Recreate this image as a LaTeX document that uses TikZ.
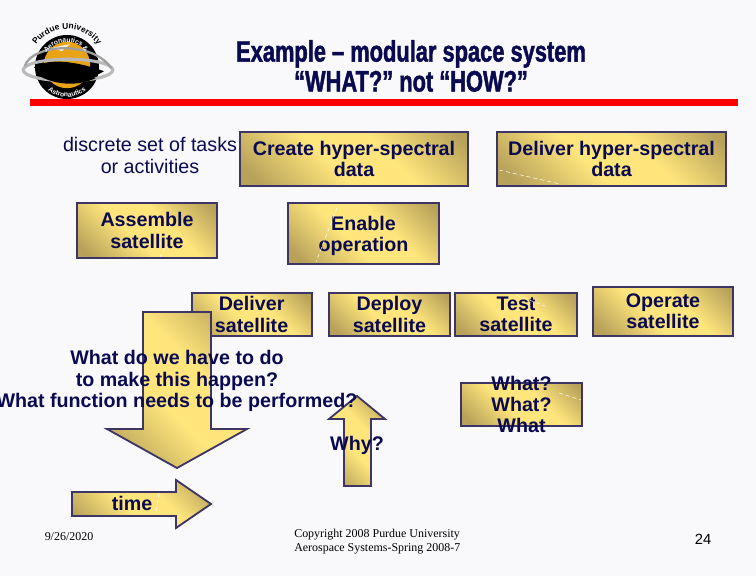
\documentclass[tikz,border=0pt]{standalone}
\usepackage{fontspec}
\setmainfont{Liberation Sans}
\newfontfamily\footfont{Liberation Serif}
\newfontfamily\titlefont[FakeStretch=0.74,FakeBold=1.5]{Liberation Sans Bold}
\usetikzlibrary{decorations.text}
\definecolor{pagebg}{HTML}{F9F9FB}
\definecolor{inknavy}{HTML}{0A0A50}
\definecolor{boxline}{HTML}{3C3565}
\definecolor{golddark}{HTML}{B8A25A}
\definecolor{goldlight}{HTML}{FFE57C}
\definecolor{sunorange}{HTML}{E8A317}
\pgfdeclareverticalshading{goldband}{100bp}{color(0bp)=(golddark); color(20bp)=(golddark);
    color(43bp)=(goldlight); color(60bp)=(goldlight); color(82bp)=(golddark); color(100bp)=(golddark)}
\newcommand{\logotype}{\bfseries\fontsize{6}{6}\selectfont}
\newcommand{\logotypesmall}{\bfseries\fontsize{4.8}{5}\selectfont}
\tikzset{
    goldfill/.style={shading=goldband,shading angle=-45,draw=boxline,line width=1.3pt},
    taskbox/.style={goldfill,inner sep=0pt,align=center,text=inknavy,
        font=\bfseries\fontsize{14}{15}\selectfont},
    plainlabel/.style={align=center,inner sep=0pt,text=inknavy,
        font=\fontsize{14}{15}\selectfont},
    boldlabel/.style={plainlabel,font=\bfseries\fontsize{14}{15}\selectfont},
    footlabel/.style={inner sep=0pt,align=left,
        font=\footfont\fontsize{8.5}{10}\selectfont},
    fleck/.style={white,densely dashed,line width=0.35pt}
}
\begin{document}
\begin{tikzpicture}
    \useasboundingbox (0,0) rectangle (18.9,14.4);
    \fill[pagebg] (0,0) rectangle (18.9,14.4);
    % logo
    \fill[black] (1.675,12.725) circle (0.8);
    \fill[sunorange] (1.675,12.775) circle (0.58);
    \fill[white!85!sunorange] (1.3,13.2) -- (1.75,13.3) -- (1.55,13.12) -- cycle;
    \fill[black] (0.85,12.72) .. controls (1.3,13.0) and (2.1,12.8) .. (2.6,12.62)
        .. controls (2.1,12.3) and (1.3,12.3) .. cycle;
    \draw[gray!55,line width=2.2pt] (1.7,12.65) ellipse (1.12 and 0.27);
    \draw[gray!75,line width=1.6pt] (0.62,12.75) .. controls (0.8,13.3) and (2.3,13.4) .. (2.78,12.7);
    \fill[black] (0.95,12.52) .. controls (1.4,12.68) and (2.0,12.6) .. (2.4,12.45)
        .. controls (2.0,12.25) and (1.4,12.25) .. cycle;
    \path[decorate,decoration={text along path,text align=center,
        text={|\logotype|Purdue University}}]
        (1.675,12.725) ++(170:0.95) arc[start angle=170, end angle=10, radius=0.95];
    \path[decorate,decoration={text along path,text align=center,
        text={|\logotypesmall\color{white}|Aeronautics}}]
        (1.675,12.725) ++(170:0.62) arc[start angle=170, end angle=30, radius=0.62];
    \node[inner sep=0pt,rotate=-45,text=white,font=\logotypesmall] (logoamp) at (2.14,13.19) {\&};
    \path[decorate,decoration={text along path,text align=center,
        text={|\logotypesmall\color{white}|Astronautics}}]
        (1.675,12.725) ++(205:0.75) arc[start angle=205, end angle=335, radius=0.75];
    % title
    \node[inner sep=0pt,align=center,text=inknavy,font=\titlefont\fontsize{21}{21.3}\selectfont]
        (title) at (10.275,12.75) {Example – modular space system\\“WHAT?” not “HOW?”};
    \fill[red] (0.75,11.75) rectangle (18.45,11.925);
    % task boxes
    \node[taskbox,minimum width=5.7cm,minimum height=1.35cm] (create) at (8.85,10.425)
        {Create hyper-spectral\\data};
    \node[taskbox,minimum width=5.725cm,minimum height=1.35cm] (deliverdata) at (15.2875,10.425)
        {Deliver hyper-spectral\\data};
    \node[taskbox,minimum width=3.5cm,minimum height=1.375cm] (assemble) at (3.675,8.6375)
        {Assemble\\satellite};
    \node[taskbox,minimum width=3.775cm,minimum height=1.525cm] (enable) at (9.0875,8.5625) {};
    \node[boldlabel,yshift=-1.5pt] (enablelabel) at (enable) {Enable\\operation};
    \node[taskbox,minimum width=3cm,minimum height=1.075cm] (deliversat) at (6.29,6.5375)
        {Deliver\\satellite};
    \node[taskbox,minimum width=3.025cm,minimum height=1.075cm] (deploy) at (9.7375,6.5375)
        {Deploy\\satellite};
    \node[taskbox,minimum width=3.05cm,minimum height=1.075cm] (test) at (12.9,6.5375)
        {Test\\satellite};
    \node[taskbox,minimum width=3.5cm,minimum height=1.225cm] (operate) at (16.575,6.6125)
        {Operate\\satellite};
    \node[taskbox,minimum width=3.025cm,minimum height=1.075cm] (what) at (13.0375,4.2875) {};
    \node[boldlabel] (whatlabel) at (what) {What?\\What?\\What};
    \draw[fleck] (12.475,10.15) -- (14,9.8);
    \draw[fleck] (8.425,9.2) -- (7.9,7.85);
    \draw[fleck] (4.125,8.2) -- (4,7.975);
    \draw[fleck] (12.9,7.025) -- (13.625,6.75);
    \draw[fleck] (13.975,4.575) -- (14.525,4.4);
    % arrows
    \draw[goldfill] (3.575,6.6) -- (5.275,6.6) -- (5.275,3.675) -- (6.175,3.675)
        -- (4.425,2.7) -- (2.675,3.675) -- (3.575,3.675) -- cycle;
    \draw[goldfill] (8.925,4.5) -- (9.625,3.925) -- (9.275,3.925) -- (9.275,2.25)
        -- (8.6,2.25) -- (8.6,3.925) -- (8.225,3.925) -- cycle;
    \draw[goldfill] (1.8,2.1) -- (4.4,2.1) -- (4.4,2.4) -- (5.275,1.8) -- (4.4,1.2)
        -- (4.4,1.5) -- (1.8,1.5) -- cycle;
    \draw[fleck] (3.975,2.075) -- (3.9,1.55);
    % labels
    \node[plainlabel] (tasks) at (3.75,10.5125) {discrete set of tasks\\or activities};
    \node[boldlabel] (question) at (4.425,4.875)
        {What do we have to do\\to make this happen?\\What function needs to be performed?};
    \node[boldlabel] (why) at (8.925,3.275) {Why?};
    \node[boldlabel] (time) at (3.3,1.825) {time};
    % footer
    \node[footlabel] (date) at (1.725,0.98) {9/26/2020};
    \node[footlabel,anchor=west] (copyright) at (7.35,0.85)
        {Copyright 2008 Purdue University\\Aerospace Systems-Spring 2008-7};
    \node[inner sep=0pt,font=\fontsize{10.5}{12}\selectfont] (page) at (17.575,0.925) {24};
\end{tikzpicture}
\end{document}
